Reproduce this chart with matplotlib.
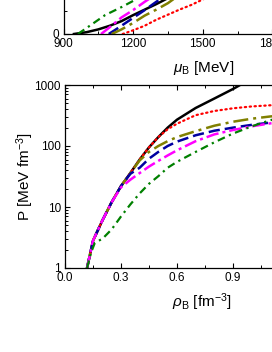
import matplotlib
matplotlib.use("Agg")
import matplotlib.pyplot as plt
from matplotlib.ticker import MultipleLocator, LogLocator, NullFormatter, FixedFormatter

plt.rcParams['font.family'] = ['Liberation Sans', 'DejaVu Sans']
plt.rcParams['mathtext.fontset'] = 'custom'
plt.rcParams['mathtext.rm'] = 'Liberation Sans'
plt.rcParams['mathtext.it'] = 'Liberation Sans:italic'

# ---------------- top panel data: P vs mu_B ----------------
mu_black = [945, 1000, 1050, 1100, 1150, 1200, 1250, 1300, 1350, 1400]
P_black = [0, 4, 10, 18, 28, 41, 53, 65, 78, 95]
mu_green = [962, 1005, 1079, 1152, 1208, 1240]
P_green = [0, 15, 41, 59, 74, 85]
mu_magenta = [1062, 1100, 1150, 1200, 1250, 1280]
P_magenta = [0, 15, 36, 52, 70, 80]
mu_blue = [1095, 1120, 1150, 1200, 1250, 1300, 1330]
P_blue = [0, 8, 18, 35, 52, 70, 80]
mu_olive = [1108, 1150, 1200, 1250, 1300, 1350, 1380]
P_olive = [0, 10, 24, 40, 53, 67, 78]
mu_red = [1155, 1200, 1250, 1300, 1350, 1400, 1450, 1500, 1530]
P_red = [0, 8, 18, 31, 42, 53, 63, 75, 82]

# ---------------- bottom panel data: P vs rho_B ----------------
rho_black = [0.118, 0.15, 0.2, 0.25, 0.3, 0.35, 0.4, 0.45, 0.5, 0.55, 0.6, 0.7, 0.8, 0.9, 0.95]
Pr_black = [1, 2.8, 6, 12, 22, 36, 60, 95, 140, 200, 270, 420, 600, 860, 1050]
rho_red = [0.118, 0.15, 0.2, 0.25, 0.3, 0.35, 0.4, 0.45, 0.5, 0.55, 0.6, 0.7, 0.8, 0.9, 1.0, 1.1, 1.2]
Pr_red = [1, 2.8, 6, 12, 22, 36, 60, 95, 140, 188, 232, 320, 375, 415, 445, 465, 480]
rho_olive = [0.118, 0.15, 0.2, 0.25, 0.3, 0.35, 0.4, 0.45, 0.5, 0.55, 0.6, 0.7, 0.8, 0.9, 1.0, 1.1, 1.2]
Pr_olive = [1, 2.8, 6, 12, 22, 36, 58, 80, 100, 120, 140, 175, 215, 250, 280, 305, 325]
rho_blue = [0.118, 0.15, 0.2, 0.25, 0.3, 0.35, 0.4, 0.45, 0.5, 0.55, 0.6, 0.7, 0.8, 0.9, 1.0, 1.1, 1.2]
Pr_blue = [1, 2.8, 6, 12, 22, 35, 44, 62, 80, 100, 118, 150, 178, 200, 222, 242, 258]
rho_magenta = [0.118, 0.15, 0.2, 0.25, 0.3, 0.35, 0.4, 0.45, 0.5, 0.55, 0.6, 0.7, 0.8, 0.9, 1.0, 1.1, 1.2]
Pr_magenta = [1, 2.8, 6, 12, 21, 28, 36, 46, 57, 70, 85, 120, 155, 183, 210, 235, 255]
rho_green = [0.118, 0.14, 0.16, 0.18, 0.2, 0.25, 0.3, 0.35, 0.4, 0.45, 0.5, 0.55, 0.6, 0.7, 0.8, 0.9, 1.0, 1.1, 1.2]
Pr_green = [1, 1.8, 2.6, 2.8, 3.0, 4.3, 7, 11, 16.7, 24, 32, 44, 55, 80, 115, 160, 210, 265, 310]

styles = {
    'black': dict(color='black', lw=1.8, ls='-'),
    'red': dict(color='#ff0000', lw=1.6, ls=(0, (0.6, 1.6)), dash_capstyle='round'),
    'olive': dict(color='#808000', lw=1.8, ls=(0, (6, 2, 1.2, 2))),
    'blue': dict(color='#0000a0', lw=1.8, ls=(0, (4.5, 2))),
    'magenta': dict(color='#ff00ff', lw=1.8, ls=(0, (5, 1.6, 1.2, 1.6))),
    'green': dict(color='#008000', lw=1.6, ls=(0, (3.5, 2, 1, 2))),
}

W, H = 272, 352
fig = plt.figure(figsize=(W / 100, H / 100), dpi=100)

def style_axes(ax):
    ax.tick_params(which='both', direction='in', top=True, right=True, labelsize=8.5, pad=3)
    ax.tick_params(which='major', length=3.5, width=0.8)
    ax.tick_params(which='minor', length=2, width=0.7)
    for s in ax.spines.values():
        s.set_linewidth(0.9)

# top panel (mostly outside the canvas)
x0, x1 = 63.5, 63.5 + 232
y_bot, y_top = 34, 34 - 184
ax1 = fig.add_axes([x0 / W, 1 - y_bot / H, (x1 - x0) / W, (y_bot - y_top) / H])
for key, mu, P in [('black', mu_black, P_black), ('green', mu_green, P_green),
                   ('magenta', mu_magenta, P_magenta), ('blue', mu_blue, P_blue),
                   ('olive', mu_olive, P_olive), ('red', mu_red, P_red)]:
    ax1.plot(mu, P, **styles[key])
ax1.set_xlim(900, 1900)
ax1.set_ylim(0, 400)
ax1.xaxis.set_major_locator(MultipleLocator(300))
ax1.xaxis.set_minor_locator(MultipleLocator(150))
ax1.yaxis.set_major_locator(MultipleLocator(100))
ax1.yaxis.set_minor_locator(MultipleLocator(50))
style_axes(ax1)
ax1.set_xlabel(r'$\mu_\mathrm{B}$ [MeV]', fontsize=11)
ax1.xaxis.set_label_coords((204 - x0) / (x1 - x0), -(68 - y_bot) / (y_bot - y_top), transform=ax1.transAxes)
ax1.xaxis.label.set_va('center')

# bottom panel
bx0, bx1 = 65, 65 + 224
by_bot, by_top = 268, 85
ax2 = fig.add_axes([bx0 / W, 1 - by_bot / H, (bx1 - bx0) / W, (by_bot - by_top) / H])
for key, rho, P in [('black', rho_black, Pr_black), ('red', rho_red, Pr_red),
                    ('olive', rho_olive, Pr_olive), ('blue', rho_blue, Pr_blue),
                    ('magenta', rho_magenta, Pr_magenta), ('green', rho_green, Pr_green)]:
    ax2.plot(rho, P, **styles[key])
ax2.set_yscale('log')
ax2.set_xlim(0, 1.2)
ax2.set_ylim(1, 1000)
ax2.xaxis.set_major_locator(MultipleLocator(0.3))
ax2.xaxis.set_minor_locator(MultipleLocator(0.15))
ax2.xaxis.set_major_formatter(plt.FuncFormatter(lambda v, p: f'{v:.1f}'))
ax2.yaxis.set_major_locator(LogLocator(base=10, numticks=10))
ax2.yaxis.set_minor_locator(LogLocator(base=10, subs=range(2, 10), numticks=10))
ax2.yaxis.set_minor_formatter(NullFormatter())
ax2.yaxis.set_major_formatter(plt.FuncFormatter(lambda v, p: f'{v:g}'))
style_axes(ax2)
ax2.set_xlabel(r'$\rho_\mathrm{B}$ [fm$^{-3}$]', fontsize=11)
ax2.xaxis.set_label_coords((202 - bx0) / (bx1 - bx0), -(302 - by_bot) / (by_bot - by_top), transform=ax2.transAxes)
ax2.xaxis.label.set_va('center')
ax2.set_ylabel(r'P [MeV fm$^{-3}$]', fontsize=11)
ax2.yaxis.set_label_coords(-(bx0 - 25) / (bx1 - bx0), 0.5, transform=ax2.transAxes)
ax2.yaxis.label.set_va('center')

fig.savefig('out.png', dpi=100)
